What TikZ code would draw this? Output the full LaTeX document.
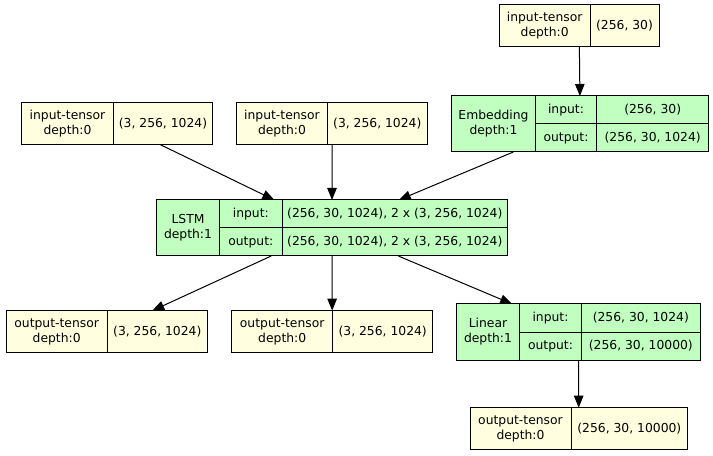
\documentclass[tikz,border=0pt]{standalone}
\usepackage{fontspec}
\setmainfont{DejaVu Sans}
\usetikzlibrary{fit,positioning,arrows.meta}
\definecolor{tensorfill}{HTML}{FFFFE0}
\definecolor{layerfill}{HTML}{C1FFC1}

\begin{document}
\begin{tikzpicture}[x=1bp, y=-1bp]
      \tikzstyle{cell}=[rectangle, draw=black, line width=1bp, outer sep=0pt, inner sep=0pt, align=center, font=\fontsize{12.4}{15}\selectfont, minimum height=42bp]
      \tikzstyle{tensor}=[cell, fill=tensorfill]
      \tikzstyle{layer}=[cell, fill=layerfill, minimum height=56bp]
      \tikzstyle{half}=[cell, fill=layerfill, minimum height=28bp]
      \tikzstyle{whole}=[rectangle, inner sep=0pt, outer sep=0pt]
      \tikzstyle{connect}=[-{Triangle[length=12bp, width=9.5bp]}, line width=1bp]

      \useasboundingbox (0,0) rectangle (713,456);

      % input tensors
      \node[tensor, minimum width=90.7bp, anchor=north west] (inTname) at (499.3,5) {input-tensor\\depth:0};
      \node[tensor, minimum width=69bp, right=0pt of inTname] (inTval) {(256, 30)};
      \node[tensor, minimum width=91.6bp, anchor=north west] (in1name) at (21.7,102.7) {input-tensor\\depth:0};
      \node[tensor, minimum width=99.4bp, right=0pt of in1name] (in1val) {(3, 256, 1024)};
      \node[tensor, minimum width=90.6bp, anchor=north west] (in2name) at (236.7,102.7) {input-tensor\\depth:0};
      \node[tensor, minimum width=100bp, right=0pt of in2name] (in2val) {(3, 256, 1024)};

      % Embedding
      \node[layer, minimum width=83.6bp, anchor=north west] (embname) at (451.7,96) {Embedding\\depth:1};
      \node[half, minimum width=61.4bp, anchor=north west] (embin) at (embname.north east) {input:};
      \node[half, minimum width=61.4bp, below=0pt of embin] (embout) {output:};
      \node[half, minimum width=112bp, right=0pt of embin] (embinval) {(256, 30)};
      \node[half, minimum width=112bp, right=0pt of embout] (emboutval) {(256, 30, 1024)};

      % LSTM
      \node[layer, minimum width=62.6bp, anchor=north west] (lstmname) at (156.7,200) {LSTM\\depth:1};
      \node[half, minimum width=63bp, anchor=north west] (lstmin) at (lstmname.north east) {input:};
      \node[half, minimum width=63bp, below=0pt of lstmin] (lstmout) {output:};
      \node[half, minimum width=225bp, right=0pt of lstmin] (lstminval) {(256, 30, 1024), 2 x (3, 256, 1024)};
      \node[half, minimum width=225bp, right=0pt of lstmout] (lstmoutval) {(256, 30, 1024), 2 x (3, 256, 1024)};

      % Linear
      \node[layer, minimum width=62.6bp, anchor=north west] (linname) at (456.7,304) {Linear\\depth:1};
      \node[half, minimum width=62.4bp, anchor=north west] (linin) at (linname.north east) {input:};
      \node[half, minimum width=62.4bp, below=0pt of linin] (linout) {output:};
      \node[half, minimum width=118.3bp, right=0pt of linin] (lininval) {(256, 30, 1024)};
      \node[half, minimum width=118.3bp, right=0pt of linout] (linoutval) {(256, 30, 10000)};

      % output tensors
      \node[tensor, minimum width=101.3bp, anchor=north west] (out1name) at (6,310.7) {output-tensor\\depth:0};
      \node[tensor, minimum width=100bp, right=0pt of out1name] (out1val) {(3, 256, 1024)};
      \node[tensor, minimum width=101bp, anchor=north west] (out2name) at (231.7,310.7) {output-tensor\\depth:0};
      \node[tensor, minimum width=100bp, right=0pt of out2name] (out2val) {(3, 256, 1024)};
      \node[tensor, minimum width=101bp, anchor=north west] (out3name) at (470,407.7) {output-tensor\\depth:0};
      \node[tensor, minimum width=116.7bp, right=0pt of out3name] (out3val) {(256, 30, 10000)};

      \node[whole, fit=(inTname) (inTval)] (inT) {};
      \node[whole, fit=(in1name) (in1val)] (in1) {};
      \node[whole, fit=(in2name) (in2val)] (in2) {};
      \node[whole, fit=(embname) (emboutval)] (emb) {};
      \node[whole, fit=(lstmname) (lstmoutval)] (lstm) {};
      \node[whole, fit=(linname) (linoutval)] (lin) {};
      \node[whole, fit=(out1name) (out1val)] (out1) {};
      \node[whole, fit=(out2name) (out2val)] (out2) {};
      \node[whole, fit=(out3name) (out3val)] (out3) {};

      \draw[connect] (inT) -- (emb);
      \draw[connect] (in1) -- (lstm);
      \draw[connect] (in2) -- (lstm);
      \draw[connect] (emb) -- (lstm);
      \draw[connect] (lstm) -- (out1);
      \draw[connect] (lstm) -- (out2);
      \draw[connect] (lstm) -- (lin);
      \draw[connect] (lin) -- (out3);
    \end{tikzpicture}
\end{document}
